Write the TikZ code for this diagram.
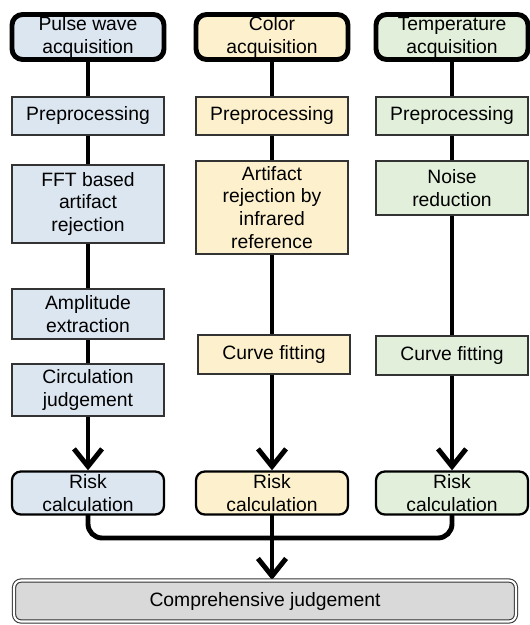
\documentclass[tikz,border=0pt]{standalone}
\usepackage{fontspec}
\setmainfont{Liberation Sans}
\usetikzlibrary{arrows.meta,backgrounds}

\definecolor{pulsefill}{HTML}{DCE6F1}
\definecolor{colorfill}{HTML}{FDF1CD}
\definecolor{tempfill}{HTML}{E2EFDA}
\definecolor{judgefill}{HTML}{D9D9D9}

\begin{document}
\begin{tikzpicture}[x=0.02cm,y=-0.02cm,font=\fontsize{11}{13}\selectfont]
    \tikzstyle{box}=[rectangle, draw=black!80, line width=0.8pt, minimum width=3.04cm, align=center, inner sep=1pt]
    \tikzstyle{source box}=[box, draw=black, rounded corners=6pt, line width=2.8pt, minimum height=0.9cm]
    \tikzstyle{risk box}=[box, draw=black, rounded corners=5pt, line width=1.3pt, minimum height=0.86cm]
    \tikzstyle{judge box}=[box, draw=black!80, double=white, double distance=1.2pt, line width=0.6pt, rounded corners=4pt, minimum width=10.04cm, minimum height=0.82cm, fill=judgefill]
    \tikzstyle{flow}=[draw=black, line width=2.8pt]
    \tikzstyle{flow arrow}=[flow, -{Straight Barb[length=10pt,width=16pt]}]

    \useasboundingbox (0,0) rectangle (530,625);

    % rows shared by all three columns
    \foreach \name/\x/\col/\txt in {P/88/pulsefill/{Pulse wave\\acquisition}, C/272/colorfill/{Color\\acquisition}, T/452/tempfill/{Temperature\\acquisition}}
    {
        \node[source box, fill=\col] (\name-acq) at (\x,37) {\txt};
        \node[box, fill=\col, minimum height=0.76cm] (\name-pre) at (\x,116) {Preprocessing};
        \node[risk box, fill=\col] (\name-risk) at (\x,493) {Risk\\calculation};
    }

    % pulse wave
    \node[box, fill=pulsefill, minimum height=1.56cm] (P-fft) at (88,204) {FFT based\\artifact\\rejection};
    \node[box, fill=pulsefill, minimum height=1.0cm] (P-amp) at (88,314) {Amplitude\\extraction};
    \node[box, fill=pulsefill, minimum height=1.04cm] (P-circ) at (88,390) {Circulation\\judgement};

    % color
    \node[box, fill=colorfill, minimum height=1.86cm] (C-art) at (272,207.5) {Artifact\\rejection by\\infrared\\reference};
    \node[box, fill=colorfill, minimum height=0.78cm] (C-fit) at (274,354.5) {Curve fitting};

    % temperature
    \node[box, fill=tempfill, minimum height=1.08cm] (T-noise) at (452,188) {Noise\\reduction};
    \node[box, fill=tempfill, minimum height=0.78cm] (T-fit) at (452,355.5) {Curve fitting};

    \node[judge box] (judge) at (265,601) {Comprehensive judgement};

    \begin{scope}[on background layer]
        \foreach \name in {P,C,T}
            \draw[flow] (\name-acq.center) -- (\name-pre.center);

        \draw[flow] (P-pre.center) -- (P-fft.center) -- (P-amp.center) -- (P-circ.center);
        \draw[flow] (C-pre.center) -- (C-art.center) -- (C-art.center |- C-fit.center);
        \draw[flow] (T-pre.center) -- (T-noise.center) -- (T-fit.center);

        \draw[flow arrow] (P-circ.center) -- (P-risk.north);
        \draw[flow arrow] (C-fit.center -| C-risk) -- (C-risk.north);
        \draw[flow arrow] (T-fit.center) -- (T-risk.north);

        \coordinate (bus) at (272,538);
        \draw[flow, rounded corners=8pt] (P-risk.center) |- (bus) -| (T-risk.center);
        \draw[flow arrow] (C-risk.center) -- (C-risk |- judge.north);
    \end{scope}
\end{tikzpicture}
\end{document}
